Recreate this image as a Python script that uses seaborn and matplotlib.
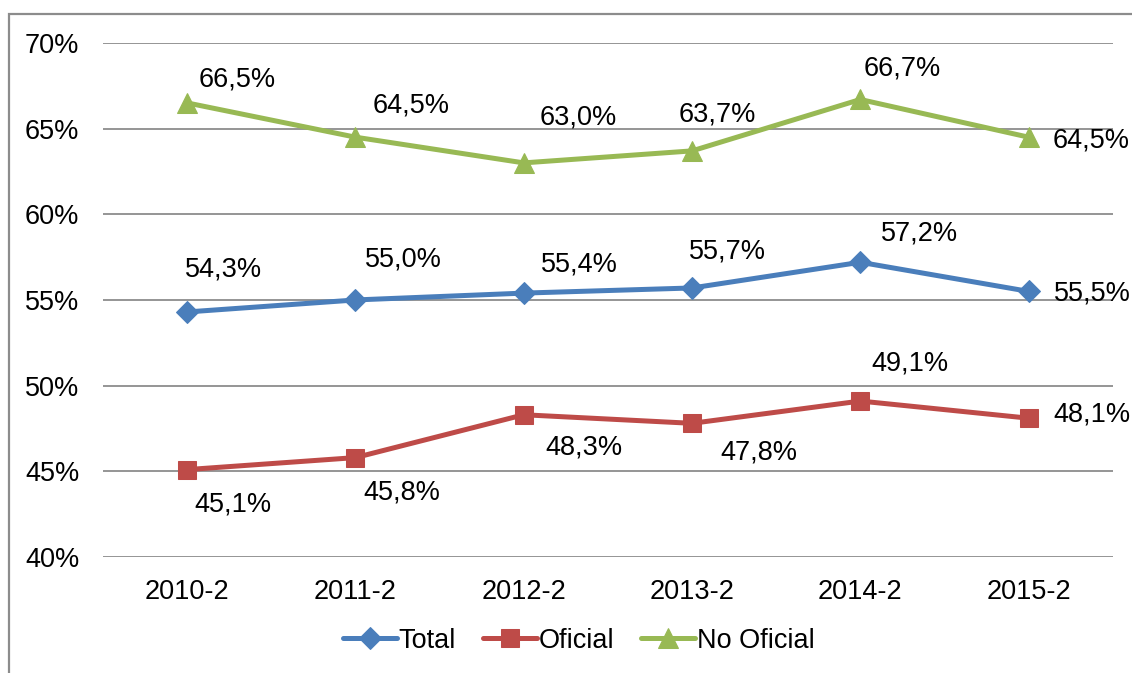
import pandas as pd
import matplotlib.pyplot as plt
import seaborn as sns
from matplotlib.patches import Rectangle

# --- Dados ---
periodos = ['2010-2', '2011-2', '2012-2', '2013-2', '2014-2', '2015-2']
total = [54.3, 55.0, 55.4, 55.7, 57.2, 55.5]
oficial = [45.1, 45.8, 48.3, 47.8, 49.1, 48.1]
no_oficial = [66.5, 64.5, 63.0, 63.7, 66.7, 64.5]
series = ['Total', 'Oficial', 'No Oficial']
y_ticks = [40, 45, 50, 55, 60, 65, 70]

# deslocamento dos rótulos (pixels) em relação ao ponto
desloc = {
    'Total': [(36, 42), (48, 40), (56, 29), (35, 36), (59, 29), (64, -2)],
    'Oficial': [(46, -35), (46, -35), (60, -33), (67, -29), (50, 38), (63, 4)],
    'No Oficial': [(50, 23), (56, 32), (55, 45), (25, 36), (42, 31), (63, -3)],
}

df = pd.DataFrame({
    'Periodo': periodos * 3,
    'Valor': total + oficial + no_oficial,
    'Serie': ['Total'] * 6 + ['Oficial'] * 6 + ['No Oficial'] * 6,
})
df['x'] = df['Periodo'].map({p: i for i, p in enumerate(periodos)})

sns.set_style('white')
plt.rcParams['font.family'] = ['Liberation Sans', 'DejaVu Sans']
plt.rcParams['text.color'] = 'black'

cores = {'Total': '#4A7EBB', 'Oficial': '#BE4B48', 'No Oficial': '#98B954'}
marcadores = {'Total': 'D', 'Oficial': 's', 'No Oficial': '^'}
tamanhos = {'Total': 11, 'Oficial': 13, 'No Oficial': 14}
fs = 19.5

fig = plt.figure(figsize=(11.32, 6.73), dpi=100)
ax = fig.add_axes([0.091, 0.1724, 0.892, 0.7638])

# moldura do gráfico (sai para fora da imagem à direita e embaixo)
fig.patches.append(Rectangle((9 / 1132, -0.05), 1.2, 1 - 14 / 673 + 0.05,
                             transform=fig.transFigure, fill=False,
                             edgecolor='#8C8C8C', linewidth=1.6))

for s in series:
    d = df[df['Serie'] == s]
    sns.lineplot(data=d, x='x', y='Valor', ax=ax, color=cores[s],
                 marker=marcadores[s], markersize=tamanhos[s],
                 markeredgecolor=cores[s], linewidth=3.6, label=s)
    for (xi, yi), (dx, dy) in zip(zip(d['x'], d['Valor']), desloc[s]):
        ax.annotate(f'{yi:.1f}%'.replace('.', ','), (xi, yi),
                    xytext=(dx, dy), textcoords='offset pixels',
                    ha='center', va='center', fontsize=fs, color='black')

ax.set_xlim(-0.5, 5.5)
ax.set_ylim(40, 70)
ax.set_yticks(y_ticks)
ax.set_yticklabels([f'{t}%' for t in y_ticks])
ax.set_xticks(range(len(periodos)))
ax.set_xticklabels(periodos)
ax.tick_params(axis='both', length=0, labelsize=fs, colors='black')
ax.tick_params(axis='y', pad=17)
ax.tick_params(axis='x', pad=16)
ax.set_xlabel('')
ax.set_ylabel('')
ax.grid(axis='y', color='#8C8C8C', linewidth=1.3)
ax.set_axisbelow(True)
for lado in ax.spines.values():
    lado.set_visible(False)

leg = ax.legend(loc='center', bbox_to_anchor=(0.471, -0.163), ncol=3,
                frameon=False, fontsize=fs, handlelength=2.0,
                handletextpad=0.05, columnspacing=1.0)
for t in leg.get_texts():
    t.set_color('black')

fig.savefig('out.png', dpi=100)
